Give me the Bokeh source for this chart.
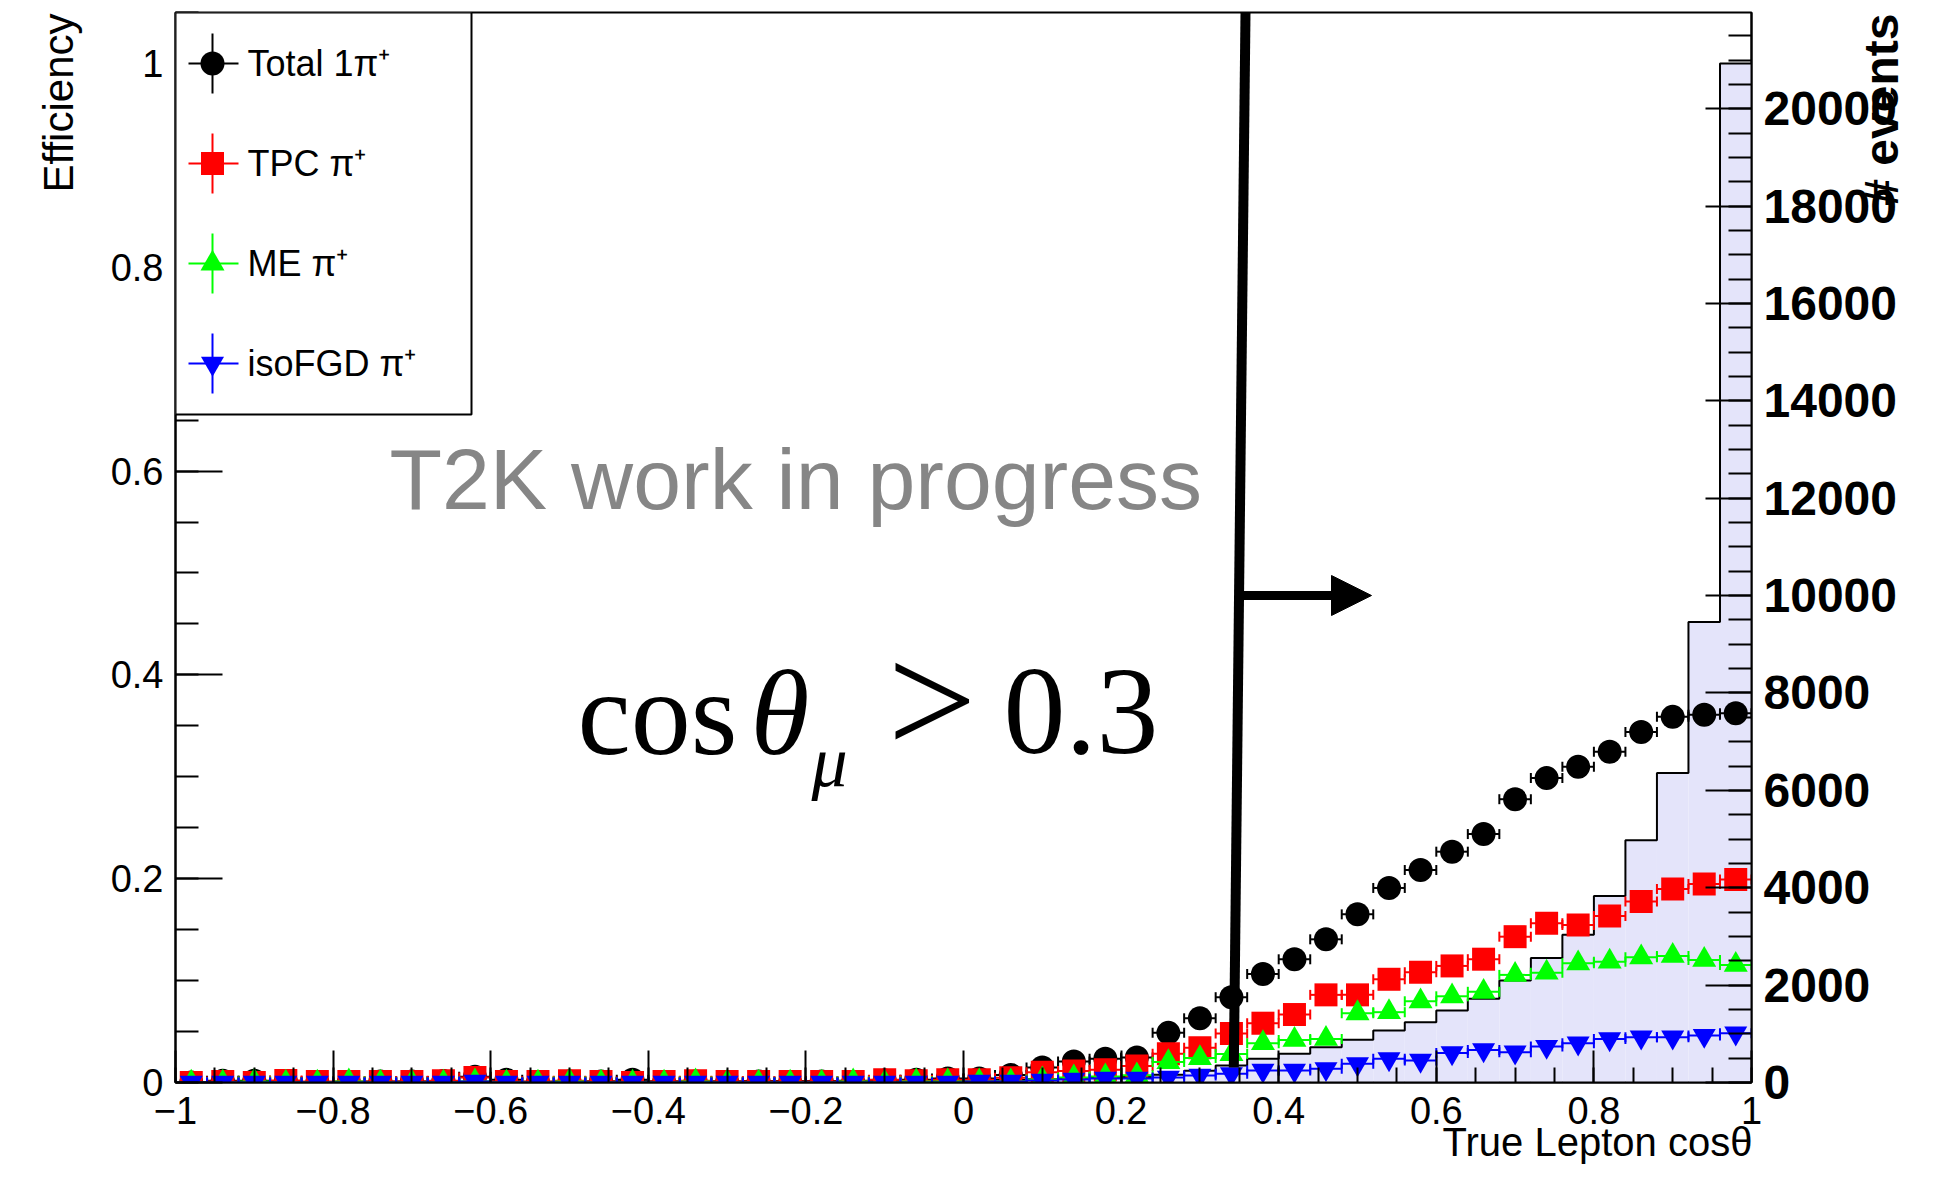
import numpy as np
from bokeh.plotting import figure
from bokeh.models import (Range1d, LinearAxis, SingleIntervalTicker, FixedTicker,
                          CustomJSTickFormatter, BoxAnnotation, Label, Arrow, NormalHead,
                          ColumnDataSource)
from bokeh.embed import file_html
from bokeh.resources import INLINE

# ---------------- data ----------------
x_min, x_max, n_bins = -1.0, 1.0, 50          # True lepton cos(theta) binning

total_eff = [0.000, 0.0016, 0.0016, 0.001, 0.000, 0.000, 0.001, 0.001, 0.0015, 0.0056,
             0.0026, 0.000, 0.001, 0.001, 0.0026, 0.000, 0.001, 0.000, 0.001, 0.000,
             0.001, 0.000, 0.002, 0.0026, 0.004,
             0.004, 0.0073, 0.0147, 0.0206, 0.0232, 0.0245, 0.0487, 0.063, 0.0837, 0.1065,
             0.1209, 0.1405, 0.165, 0.1909, 0.2085, 0.2265, 0.2438, 0.278, 0.2987, 0.3098,
             0.3245, 0.344, 0.3588, 0.3608, 0.3624]

tpc_eff = [0.000, 0.001, 0.000, 0.002, 0.001, 0.001, 0.001, 0.001, 0.0016, 0.0049,
           0.001, 0.001, 0.0016, 0.001, 0.000, 0.001, 0.0016, 0.001, 0.001, 0.001,
           0.001, 0.001, 0.0026, 0.0016, 0.0026,
           0.0026, 0.0046, 0.0101, 0.0114, 0.0124, 0.0163, 0.0281, 0.034, 0.048, 0.0582,
           0.0667, 0.086, 0.086, 0.1013, 0.1082, 0.1144, 0.121, 0.1431, 0.1562, 0.1546,
           0.1634, 0.1775, 0.1899, 0.1948, 0.1993]

me_eff = [0.000, 0.000, 0.001, 0.000, 0.000, 0.001, 0.000, 0.000, 0.000, 0.001,
          0.000, 0.000, 0.001, 0.000, 0.000, 0.000, 0.001, 0.000, 0.000, 0.000,
          0.000, 0.001, 0.000, 0.001, 0.001,
          0.001, 0.001, 0.003, 0.005, 0.006, 0.007, 0.020, 0.024, 0.028, 0.0386,
          0.0418, 0.0428, 0.068, 0.069, 0.0797, 0.0846, 0.089, 0.1056, 0.1078, 0.117,
          0.1186, 0.1229, 0.1242, 0.1203, 0.1154]

iso_eff = [0.000, 0.000, 0.000, 0.000, 0.000, 0.000, 0.000, 0.000, 0.000, 0.001,
           0.000, 0.000, 0.000, 0.000, 0.000, 0.000, 0.000, 0.000, 0.000, 0.000,
           0.000, 0.000, 0.000, 0.000, 0.000,
           0.001, 0.001, 0.002, 0.003, 0.004, 0.004, 0.005, 0.0069, 0.0085, 0.0118,
           0.0118, 0.0134, 0.0183, 0.0232, 0.0216, 0.029, 0.032, 0.0297, 0.0353, 0.0386,
           0.0428, 0.0445, 0.0445, 0.0461, 0.0484]

events = [6, 9, 8, 11, 10, 13, 12, 14, 17, 15,
          18, 17, 20, 22, 21, 24, 26, 25, 29, 31,
          30, 35, 38, 41, 45,
          50, 58, 66, 78, 95, 115, 160, 240, 350, 487,
          590, 726, 877, 1069, 1240, 1480, 1720, 2097, 2555, 3036,
          3830, 4974, 6358, 9460, 20930]

legend_labels = ["Total 1\u03c0\u207a", "TPC \u03c0\u207a", "ME \u03c0\u207a", "isoFGD \u03c0\u207a"]
series_colors = ["#000000", "#ff0000", "#00ff00", "#0000ff"]
series_markers = ["circle", "square", "triangle", "inverted_triangle"]
series_sizes = [24, 23, 24, 23]
cut_value = 0.3

for arr in (total_eff, tpc_eff, me_eff, iso_eff, events):
    assert len(arr) == n_bins

edges = np.linspace(x_min, x_max, n_bins + 1)
centers = 0.5 * (edges[:-1] + edges[1:])
half_w = 0.5 * (edges[1] - edges[0])

# ---------------- layout (pixels of the 1937x1177 canvas) ----------------
W, H = 1937, 1177
FL, FR, FT, FB = 175, 1751, 12, 1082
Y_TOP = 1.05
EV_TOP = 1.05 * max(events)


def dx(px):
    return x_min + (px - FL) * (x_max - x_min) / (FR - FL)


def dy(py):
    return (FB - py) * Y_TOP / (FB - FT)


def dev(py):
    return (FB - py) * EV_TOP / (FB - FT)


def sx(px):
    return px - FL


def sy_base(py, size, k=0.35):
    # Label is anchored at the middle of its text box: shift so that py is the baseline
    return FB - (py - k * size)


p = figure(width=W, height=H, x_range=Range1d(x_min, x_max), y_range=Range1d(0, Y_TOP),
           output_backend="svg", toolbar_location=None,
           min_border_left=FL, min_border_right=W - FR, min_border_top=FT,
           min_border_bottom=H - FB)
p.extra_y_ranges = {"events": Range1d(0, EV_TOP)}
p.xgrid.visible = False
p.ygrid.visible = False
p.outline_line_color = "black"
p.outline_line_width = 2
p.background_fill_color = "white"
p.border_fill_color = "white"

fmt_js = """
const v = Math.round(tick * 100) / 100;
if (Math.abs(v) < 1e-9) { return "0"; }
let s = Math.abs(v).toFixed(1);
if (s.endsWith(".0")) { s = s.slice(0, -2); }
return (v < 0 ? "\u2212" : "") + s;
"""

for ax, tin, tmin, stand in ((p.xaxis[0], 32, 15, 14), (p.yaxis[0], 47, 23, 12)):
    ax.ticker = SingleIntervalTicker(interval=0.2, num_minor_ticks=4)
    ax.formatter = CustomJSTickFormatter(code=fmt_js)
    ax.major_tick_in = tin
    ax.major_tick_out = 0
    ax.minor_tick_in = tmin
    ax.minor_tick_out = 0
    ax.major_tick_line_width = 2
    ax.minor_tick_line_width = 2
    ax.axis_line_width = 2
    ax.major_label_text_font = "Liberation Sans"
    ax.major_label_text_font_size = "38px"
    ax.major_label_text_color = "black"
    ax.major_label_standoff = stand

ax2 = LinearAxis(y_range_name="events",
                 ticker=SingleIntervalTicker(interval=2000, num_minor_ticks=4),
                 formatter=CustomJSTickFormatter(code="return tick.toFixed(0);"),
                 major_tick_in=46, major_tick_out=0, minor_tick_in=23, minor_tick_out=0,
                 major_tick_line_width=2, minor_tick_line_width=2, axis_line_width=2,
                 major_label_text_font="Liberation Sans",
                 major_label_text_font_style="bold",
                 major_label_text_font_size="48px",
                 major_label_text_color="black",
                 major_label_standoff=12)
p.add_layout(ax2, "right")


def title_axis(text, size, bold, pos, standoff, orient, y_range_name=None):
    """An extra, otherwise empty axis whose single tick label is the axis title,
    so the title can sit at the high end of the axis like in ROOT."""
    kw = dict(ticker=FixedTicker(ticks=[pos], minor_ticks=[]),
              formatter=CustomJSTickFormatter(code="return title;", args=dict(title=text)),
              axis_line_color=None, major_tick_in=0, major_tick_out=0,
              minor_tick_in=0, minor_tick_out=0,
              major_label_text_font="Liberation Sans",
              major_label_text_font_size=f"{size}px",
              major_label_text_font_style="bold" if bold else "normal",
              major_label_text_color="black",
              major_label_standoff=standoff,
              major_label_orientation=orient)
    if y_range_name is not None:
        kw["y_range_name"] = y_range_name
    return LinearAxis(**kw)


# axis titles, placed ROOT-style at the high end of each axis
p.add_layout(title_axis("Efficiency", 42, False, dy(FT + 1), 49, np.pi / 2), "left")
p.add_layout(title_axis("# events", 48, True, dev(179), -18, np.pi / 2,
                        y_range_name="events"), "right")
p.add_layout(title_axis("True Lepton cos\u03b8", 40, False, dx(FR - 154), -7, "horizontal"),
             "below")

# ---------------- histogram of events ----------------
p.quad(left=edges[:-1], right=edges[1:], bottom=0, top=events, y_range_name="events",
       fill_color="#e4e4fa", line_color=None)
p.step(x=edges, y=list(events) + [events[-1]], mode="after", y_range_name="events",
       line_color="black", line_width=2)

# ---------------- efficiency series ----------------
all_series = [total_eff, tpc_eff, me_eff, iso_eff]
for vals, col, mk, sz in zip(all_series, series_colors, series_markers, series_sizes):
    src = ColumnDataSource(dict(x=centers, y=vals, x0=centers - half_w, x1=centers + half_w))
    p.segment(x0="x0", y0="y", x1="x1", y1="y", line_color=col, line_width=2, source=src)
    p.scatter(x="x0", y="y", marker="dash", angle=np.pi / 2, size=10, line_color=col,
              line_width=2, source=src)
    p.scatter(x="x1", y="y", marker="dash", angle=np.pi / 2, size=10, line_color=col,
              line_width=2, source=src)
    p.scatter(x="x", y="y", marker=mk, size=sz, fill_color=col, line_color=None, source=src)

# ---------------- cut line and arrow ----------------
p.segment(x0=[dx(1245)], y0=[Y_TOP], x1=[dx(1233.3)], y1=[dy(1067)], line_color="black",
          line_width=10, level="overlay")
p.add_layout(Arrow(end=NormalHead(size=40, fill_color="black", line_color="black", line_width=1),
                   x_start=dx(1238.5), y_start=dy(595), x_end=dx(1371), y_end=dy(595),
                   line_color="black", line_width=9))

# ---------------- texts ----------------
p.add_layout(Label(x=sx(389), y=sy_base(509, 86), x_units="screen", y_units="screen",
                   text="T2K work in progress", text_font="Liberation Sans",
                   text_font_size="86px", text_color="#868686", text_baseline="middle"))
serif = "Liberation Serif"
for txt, px, py, size, style in (("cos", 577, 754, 120, "normal"),
                                 ("\u03b8", 750, 754, 120, "italic"),
                                 ("\u03bc", 811, 786, 72, "italic"),
                                 (">", 887, 754, 158, "normal"),
                                 (str(cut_value), 1003, 754, 124, "normal")):
    p.add_layout(Label(x=sx(px), y=sy_base(py, size, 0.34), x_units="screen", y_units="screen",
                       text=txt, text_font=serif, text_font_size=f"{size}px",
                       text_font_style=style, text_color="black", text_baseline="middle"))

# ---------------- legend ----------------
p.add_layout(BoxAnnotation(left=x_min, right=dx(471), bottom=dy(414), top=Y_TOP,
                           fill_color="white", fill_alpha=1.0, line_color="black",
                           line_alpha=1.0, line_width=2))
leg_rows = [63, 163, 263, 363]
for row, lab, col, mk, sz in zip(leg_rows, legend_labels, series_colors, series_markers,
                                 series_sizes):
    p.segment(x0=[dx(188)], x1=[dx(238)], y0=[dy(row)], y1=[dy(row)], line_color=col,
              line_width=2, level="overlay")
    p.segment(x0=[dx(212)], x1=[dx(212)], y0=[dy(row - 30)], y1=[dy(row + 30)],
              line_color=col, line_width=2, level="overlay")
    p.scatter(x=[dx(212)], y=[dy(row)], marker=mk, size=sz, fill_color=col, line_color=None,
              level="overlay")
    p.add_layout(Label(x=sx(247), y=sy_base(row + 13, 36), x_units="screen", y_units="screen",
                       text=lab, text_font="Liberation Sans", text_font_size="36px",
                       text_color="black", text_baseline="middle", level="overlay"))

with open("out.html", "w", encoding="utf-8") as f:
    f.write(file_html(p, INLINE))
